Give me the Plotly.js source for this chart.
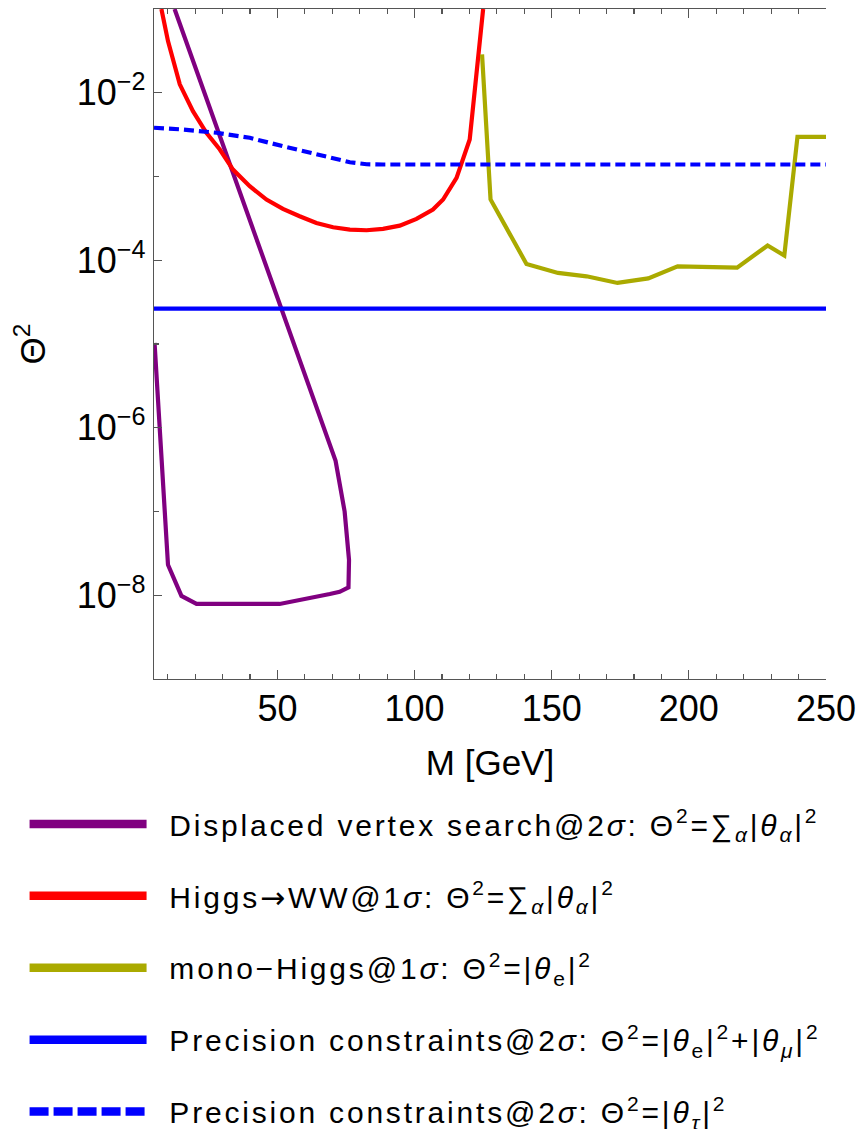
<!DOCTYPE html>
<html>
<head>
<meta charset="utf-8">
<script src="https://cdn.plot.ly/plotly-3.0.1.min.js"></script>
<style>
html,body{margin:0;padding:0;background:#fff;}
#chart{width:858px;height:1129px;}
text.legendtext{letter-spacing:2.8px;}
#chart .legend .legendlines path{stroke-width:8.5px !important;}
#chart .legend .legendlines path[style*="dasharray"]{stroke-dasharray:19px,5px !important;}
</style>
</head>
<body>
<div id="chart"></div>
<script>
// ---- Data ----
const dvM   = [12.5, 71.2, 74.5, 76.1, 75.9, 72.7, 69.1, 50.8, 20.5, 15.0, 10.1, 5.2];
const dvTh2 = [1.0e-1, 4.03e-7, 1.0e-7, 2.64e-8, 1.24e-8, 1.10e-8, 1.035e-8, 7.87e-9, 7.87e-9, 9.82e-9, 2.31e-8, 1.03e-5];

const wwM   = [7.7, 10.1, 14.4, 19.2, 24.1, 29.0, 33.8, 39.9, 46.0, 52.0, 58.1, 64.2, 70.3, 76.4, 82.5, 88.5, 94.6, 100.7, 106.7, 110.4, 115.3, 120.1, 125.0];
const wwTh2 = [1.0e-1, 4.14e-2, 1.26e-2, 6.03e-3, 3.33e-3, 2.10e-3, 1.21e-3, 7.66e-4, 5.31e-4, 4.10e-4, 3.35e-4, 2.79e-4, 2.48e-4, 2.32e-4, 2.28e-4, 2.37e-4, 2.59e-4, 3.12e-4, 4.03e-4, 5.31e-4, 9.64e-4, 2.77e-3, 1.0e-1];

const monoM   = [124.6, 127.7, 140.8, 152.3, 162.7, 174.0, 185.2, 195.9, 217.6, 228.7, 234.8, 239.6, 250];
const monoTh2 = [2.87e-2, 5.31e-4, 9.04e-5, 7.06e-5, 6.43e-5, 5.36e-5, 6.08e-5, 8.47e-5, 8.17e-5, 1.50e-4, 1.14e-4, 2.98e-3, 2.98e-3];

const precEMuM   = [5, 250];
const precEMuTh2 = [2.64e-5, 2.64e-5];

const precTauM   = [5, 15.6, 27.8, 39.9, 52.0, 64.2, 76.4, 82.5, 88.5, 250];
const precTauTh2 = [3.82e-3, 3.64e-3, 3.33e-3, 2.90e-3, 2.30e-3, 1.83e-3, 1.48e-3, 1.40e-3, 1.39e-3, 1.39e-3];

const seriesNames = [
  "\u2002Displaced vertex search@2<i>σ</i>: Θ<sup>2</sup>=∑<sub><i>α</i></sub>|<i>θ</i><sub><i>α</i></sub>|<sup>2</sup>",
  "\u2002Higgs<span style=\"font-family:DejaVu Sans\">→</span>WW@1<i>σ</i>: Θ<sup>2</sup>=∑<sub><i>α</i></sub>|<i>θ</i><sub><i>α</i></sub>|<sup>2</sup>",
  "\u2002mono−Higgs@1<i>σ</i>: Θ<sup>2</sup>=|<i>θ</i><sub>e</sub>|<sup>2</sup>",
  "\u2002Precision constraints@2<i>σ</i>: Θ<sup>2</sup>=|<i>θ</i><sub>e</sub>|<sup>2</sup>+|<i>θ</i><sub><i>μ</i></sub>|<sup>2</sup>",
  "\u2002Precision constraints@2<i>σ</i>: Θ<sup>2</sup>=|<i>θ</i><sub><i>τ</i></sub>|<sup>2</sup>"
];

const xTickVals = [50, 100, 150, 200, 250];
const yTickVals = [1e-8, 1e-6, 1e-4, 1e-2];
const yTickText = ["10<sup>−8</sup>", "10<sup>−6</sup>", "10<sup>−4</sup>", "10<sup>−2</sup>"];
const yMinorVals = [1e-9, 1e-7, 1e-5, 1e-3, 1e-1];

// ---- Styles ----
const colors = ["#800080", "#FF0000", "#AAAA00", "#0000FF", "#0000FF"];
const LW = 4.2;
const FONT = "Liberation Sans, Arial, sans-serif";

const traces = [
  {x: dvM, y: dvTh2, name: seriesNames[0], line: {color: colors[0], width: LW}},
  {x: wwM, y: wwTh2, name: seriesNames[1], line: {color: colors[1], width: LW}},
  {x: monoM, y: monoTh2, name: seriesNames[2], line: {color: colors[2], width: LW}},
  {x: precEMuM, y: precEMuTh2, name: seriesNames[3], line: {color: colors[3], width: LW}},
  {x: precTauM, y: precTauTh2, name: seriesNames[4], line: {color: colors[4], width: LW, dash: "10px,5px"}}
].map((t, i) => Object.assign({type: "scatter", mode: "lines", legendgroup: "g" + i, hoverinfo: "skip"}, t));

const axisColor = "#555";
const layout = {
  width: 858, height: 1129,
  margin: {l: 154.3, r: 32.3, t: 9.3, b: 449.7, autoexpand: false},
  paper_bgcolor: "#fff", plot_bgcolor: "#fff",
  font: {family: FONT, color: "#000", size: 35},
  showlegend: true,
  legend: {
    x: -0.1926, xanchor: "left", y: -0.1775, yanchor: "top",
    font: {family: FONT, size: 30, color: "#000"},
    itemwidth: 117, tracegroupgap: 29.9,
    bgcolor: "rgba(0,0,0,0)"
  },
  xaxis: {
    range: [5, 250], showgrid: false, zeroline: false,
    showline: true, linecolor: axisColor, linewidth: 1.3, mirror: "ticks",
    tickmode: "array", tickvals: xTickVals, ticks: "inside", ticklen: 9, tickwidth: 1.2, tickcolor: axisColor,
    minor: {tickmode: "linear", tick0: 0, dtick: 10, ticks: "inside", ticklen: 5, tickwidth: 1.1, tickcolor: axisColor, showgrid: false},
    tickfont: {family: FONT, size: 36, color: "#000"},
    ticklabelstandoff: -3,
    title: {text: "M [GeV]", font: {family: FONT, size: 35, color: "#000"}, standoff: 23}
  },
  yaxis: {
    type: "log", range: [-9, -1], showgrid: false, zeroline: false,
    showline: true, linecolor: axisColor, linewidth: 1.3,
    tickmode: "array", tickvals: yTickVals, ticktext: yTickText,
    ticks: "inside", ticklen: 8, tickwidth: 1.2, tickcolor: axisColor,
    minor: {tickmode: "array", tickvals: yMinorVals, ticks: "inside", ticklen: 5, tickwidth: 1.1, tickcolor: axisColor, showgrid: false},
    tickfont: {family: FONT, size: 36, color: "#000"},
    title: {text: "Θ<sup>2</sup>", font: {family: FONT, size: 35, color: "#000"}, standoff: 20}
  },
  yaxis2: {
    overlaying: "y", side: "right", anchor: "x", range: [0, 18.44],
    showgrid: false, zeroline: false, showline: true, linecolor: axisColor, linewidth: 1.3,
    tickmode: "linear", tick0: 0.724, dtick: 1, ticks: "inside", ticklen: 8, tickwidth: 1.1, tickcolor: axisColor,
    showticklabels: false
  }
};

Plotly.newPlot("chart", traces, layout, {displayModeBar: false, staticPlot: true});
</script>
</body>
</html>
